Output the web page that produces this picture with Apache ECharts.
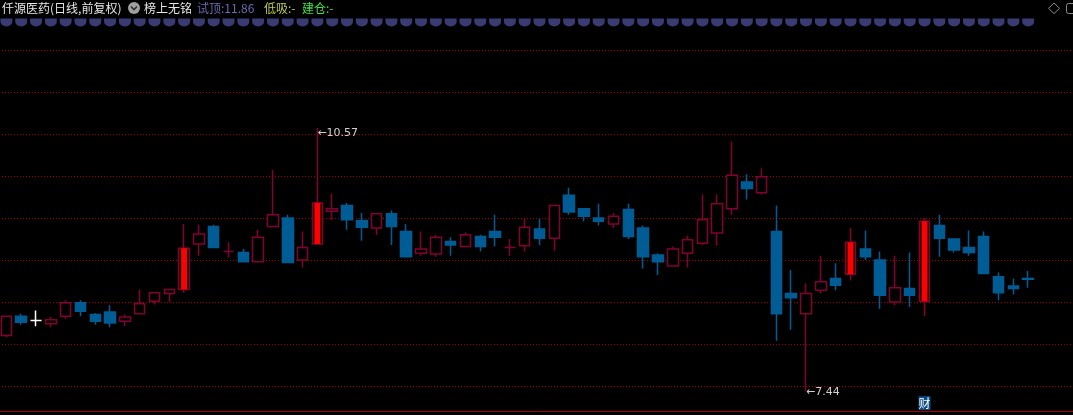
<!DOCTYPE html>
<html><head><meta charset="utf-8">
<script src="https://cdn.jsdelivr.net/npm/echarts@6/dist/echarts.min.js"></script>
<style>html,body{margin:0;padding:0;background:#000;}#c{width:1073px;height:415px;}</style>
</head><body><div id="c"></div>
<script>
// ---- data ----
const categories = ['T01','T02','T03','T04','T05','T06','T07','T08','T09','T10',
  'T11','T12','T13','T14','T15','T16','T17','T18','T19','T20',
  'T21','T22','T23','T24','T25','T26','T27','T28','T29','T30',
  'T31','T32','T33','T34','T35','T36','T37','T38','T39','T40',
  'T41','T42','T43','T44','T45','T46','T47','T48','T49','T50',
  'T51','T52','T53','T54','T55','T56','T57','T58','T59','T60',
  'T61','T62','T63','T64','T65','T66','T67','T68','T69','T70',
  'T71','T72','T73'];
const opens = [8.10,8.33,8.28,8.24,8.33,8.49,8.35,8.38,8.27,8.36,
  8.51,8.60,8.65,9.19,9.40,9.10,9.09,8.98,9.40,9.50,
  9.00,9.19,9.58,9.65,9.47,9.38,9.55,9.34,9.08,9.07,
  9.22,9.16,9.28,9.34,9.15,9.17,9.37,9.26,9.77,9.61,
  9.50,9.43,9.60,9.38,9.06,8.93,9.08,9.20,9.32,9.61,
  9.93,9.80,9.34,8.60,8.36,8.64,8.78,8.83,9.13,9.00,
  8.50,8.66,8.51,9.41,9.25,9.15,9.28,8.80,8.69,8.78];
const closes = [8.33,8.26,8.28,8.29,8.49,8.39,8.27,8.25,8.32,8.48,
  8.61,8.65,9.14,9.31,9.15,9.10,8.98,9.27,9.54,8.97,
  9.15,9.68,9.61,9.48,9.39,9.55,9.40,9.04,9.13,9.27,
  9.18,9.30,9.16,9.27,9.15,9.39,9.26,9.65,9.57,9.52,
  9.46,9.52,9.28,9.04,8.98,9.13,9.24,9.48,9.67,10.01,
  9.85,9.99,8.36,8.55,8.60,8.74,8.70,9.21,9.04,8.58,
  8.67,8.58,9.46,9.26,9.12,9.09,8.84,8.61,8.66,8.77];
const lows = [8.08,8.23,8.21,8.20,8.30,8.33,8.23,8.20,8.21,8.35,
  8.47,8.50,8.61,9.05,9.15,9.03,8.97,8.98,9.40,8.97,
  8.91,9.19,9.48,9.36,9.23,9.30,9.18,9.03,9.05,9.04,
  9.05,9.16,9.10,9.16,9.05,9.10,9.18,9.11,9.54,9.46,
  9.41,9.38,9.25,8.90,8.82,8.93,8.91,9.18,9.17,9.54,
  9.72,9.78,8.04,8.17,7.44,8.60,8.64,8.76,9.00,8.42,
  8.46,8.44,8.33,9.04,9.09,9.05,8.84,8.52,8.59,8.67];
const highs = [8.33,8.36,8.40,8.32,8.52,8.52,8.37,8.46,8.35,8.65,
  8.61,8.65,9.43,9.42,9.42,9.21,9.13,9.36,10.07,9.54,
  9.34,10.57,9.79,9.68,9.56,9.55,9.59,9.43,9.34,9.30,
  9.27,9.33,9.30,9.54,9.25,9.49,9.49,9.65,9.86,9.61,
  9.67,9.56,9.67,9.41,9.08,9.16,9.29,9.78,9.78,10.41,
  10.02,10.09,9.65,8.88,8.72,9.05,8.96,9.38,9.35,9.10,
  9.05,9.09,9.50,9.54,9.25,9.35,9.34,8.85,8.78,8.87];
const highlightBars = [12, 21, 57, 62];
const reportBar = 62;
const markerRow = [1,1,1,1,1,1,1,1,1,1, 1,1,1,1,1,1,1,1,1,1,
  1,1,1,1,1,1,1,1,1,1, 1,1,1,1,1,1,1,1,1,1,
  1,1,1,1,1,1,1,1,1,1, 1,1,1,1,1,1,1,1,1,1,
  1,1,1,1,1,1,1,1,1,1];
const yTicks = { min: 7.0, max: 11.5, interval: 0.5, baseLine: 7.2 };
const headerTitle = '仟源医药(日线,前复权)';
const headerTag = '榜上无铭';
const headerItems = ['试顶:11.86', '低吸:-', '建仓:-'];

// ---- styles ----
const UP = '#820032', DOWN = '#005c94', WHITE_DOJI = 2;
const candleData = opens.map((o, i) => {
  const item = { value: [o, closes[i], lows[i], highs[i]] };
  if (o === closes[i]) {
    const col = i === WHITE_DOJI ? '#ffffff' : UP;
    item.itemStyle = { color: '#000', color0: '#000', borderColor: col, borderColor0: col };
  }
  return item;
});
let hiIdx = 0, loIdx = 0;
highs.forEach((h, i) => { if (h > highs[hiIdx]) hiIdx = i; });
lows.forEach((l, i) => { if (l < lows[loIdx]) loIdx = i; });

const chart = echarts.init(document.getElementById('c'), null, { renderer: 'canvas' });
const LBL = { color: '#d0d0d0', fontSize: 11, fontFamily: 'DejaVu Sans' };
chart.setOption({
  backgroundColor: '#000',
  animation: false,
  grid: [
    { left: -1, right: -7, top: 50, height: 378, outerBoundsMode: 'none', containLabel: false },
    { left: -1, right: -7, top: 18, height: 9, outerBoundsMode: 'none', containLabel: false }
  ],
  xAxis: [
    { type: 'category', data: categories, gridIndex: 0, boundaryGap: true,
      axisLine: { show: false }, axisTick: { show: false }, axisLabel: { show: false }, splitLine: { show: false } },
    { type: 'category', data: categories, gridIndex: 1, boundaryGap: true,
      axisLine: { show: false }, axisTick: { show: false }, axisLabel: { show: false }, splitLine: { show: false } }
  ],
  yAxis: [
    { type: 'value', gridIndex: 0, min: yTicks.min, max: yTicks.max, interval: yTicks.interval,
      axisLine: { show: false }, axisTick: { show: false }, axisLabel: { show: false },
      splitLine: { show: true, lineStyle: { color: '#a80000', width: 1, type: [1, 2] } } },
    { type: 'value', gridIndex: 1, min: 0, max: 2, show: false }
  ],
  series: [
    {
      type: 'candlestick', xAxisIndex: 0, yAxisIndex: 0, barWidth: 11,
      data: candleData,
      itemStyle: { color: '#000', color0: DOWN, borderColor: UP, borderColor0: DOWN, borderWidth: 1.5 },
      emphasis: { disabled: true },
      markLine: {
        silent: true, symbol: 'none', animation: false,
        label: { show: false },
        lineStyle: { color: '#a80000', type: 'solid', width: 1 },
        data: [{ yAxis: yTicks.baseLine }]
      },
      markPoint: {
        silent: true, animation: false, symbol: 'circle', symbolSize: 0,
        data: [
          { coord: [categories[hiIdx], highs[hiIdx]],
            label: Object.assign({ show: true, position: 'right', distance: 0, offset: [0, 5],
              formatter: '←' + highs[hiIdx].toFixed(2) }, LBL) },
          { coord: [categories[loIdx], lows[loIdx]],
            label: Object.assign({ show: true, position: 'right', distance: 0, offset: [0, 1],
              formatter: '←' + lows[loIdx].toFixed(2) }, LBL) },
          { coord: [categories[reportBar], yTicks.baseLine],
            label: { show: true, position: 'top', distance: 1, formatter: '财', color: '#ffffff',
              fontSize: 12, fontFamily: 'Noto Sans CJK SC', backgroundColor: '#0c4a86',
              padding: [1, 0, 0, 0], lineHeight: 13 } }
        ]
      }
    },
    {
      type: 'custom', xAxisIndex: 0, yAxisIndex: 0, z: 5,
      data: highlightBars.map(i => [i, opens[i], closes[i]]),
      renderItem: (params, api) => {
        const a = api.coord([api.value(0), api.value(1)]);
        const b = api.coord([api.value(0), api.value(2)]);
        return { type: 'rect',
          shape: { x: a[0] - 3, y: Math.min(a[1], b[1]), width: 6, height: Math.abs(a[1] - b[1]) },
          style: { fill: '#ff0000' } };
      }
    },
    {
      type: 'scatter', xAxisIndex: 1, yAxisIndex: 1, data: markerRow,
      symbol: 'path://M0 0H12V3A6 5 0 0 1 0 3Z', symbolSize: [12, 8], symbolKeepAspect: false,
      itemStyle: { color: '#4a4a90' }, silent: true
    }
  ],
  graphic: [
    { type: 'text', x: 2, y: 8, style: { text: headerTitle, fill: '#e6e6e6', font: '12px "Noto Sans CJK SC"', verticalAlign: 'middle' } },
    { type: 'circle', shape: { cx: 134, cy: 8, r: 6 }, style: { fill: '#a0a0a0' } },
    { type: 'polyline', shape: { points: [[131, 6.5], [134, 9.5], [137, 6.5]] }, style: { stroke: '#303030', lineWidth: 1.6, fill: null } },
    { type: 'text', x: 144, y: 8, style: { text: headerTag, fill: '#e6e6e6', font: '12px "Noto Sans CJK SC"', verticalAlign: 'middle' } },
    { type: 'text', x: 197, y: 8, style: { text: headerItems[0], fill: '#6a6ab4', font: '12px "Noto Sans CJK SC"', verticalAlign: 'middle' } },
    { type: 'text', x: 264, y: 8, style: { text: headerItems[1], fill: '#c0c850', font: '12px "Noto Sans CJK SC"', verticalAlign: 'middle' } },
    { type: 'text', x: 302, y: 8, style: { text: headerItems[2], fill: '#40e040', font: '12px "Noto Sans CJK SC"', verticalAlign: 'middle' } },
    { type: 'polygon', shape: { points: [[1054, 3], [1059.5, 8.3], [1054, 13.6], [1048.5, 8.3]] }, style: { stroke: '#8c8c8c', fill: null, lineWidth: 1 } },
    { type: 'rect', shape: { x: 1066.5, y: 3.5, width: 10, height: 10, r: 2 }, style: { stroke: '#8c8c8c', fill: null, lineWidth: 1 } }
  ]
});
</script></body></html>
